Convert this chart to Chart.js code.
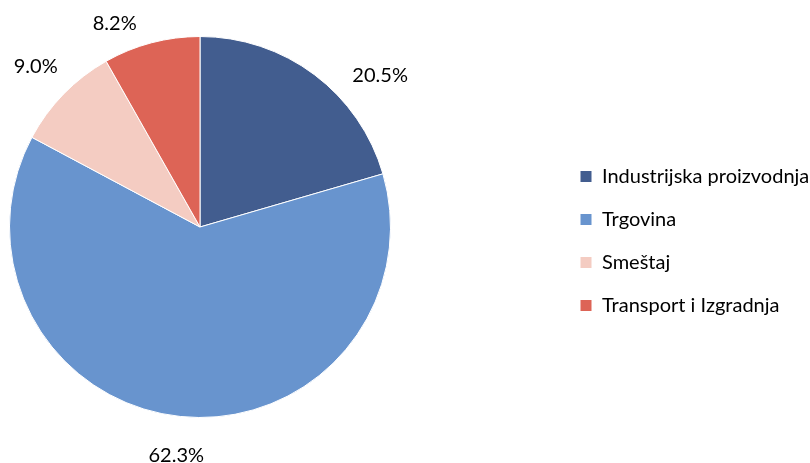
<!DOCTYPE html>
<html>
<head>
<meta charset="utf-8">
<script src="https://cdn.jsdelivr.net/npm/chart.js@4.4.1/dist/chart.umd.min.js"></script>
<style>
  html, body { margin: 0; padding: 0; background: #fff; }
  #wrap { width: 810px; height: 463px; position: relative; }
</style>
</head>
<body>
<div id="wrap"><canvas id="pieChart"></canvas></div>
<script>
// Data (shares in percent)
const categories = ['Industrijska proizvodnja', 'Trgovina', 'Smeštaj', 'Transport i Izgradnja'];
const shares = [20.5, 62.3, 9.0, 8.2];
const sliceColors = ['#425D8F', '#6894CE', '#F4CCC2', '#DD6456'];

const FONT = 'Lato, "Noto Sans", sans-serif';

// Excel-ish outside labels; small angle/radius tweaks per slice
const outsideLabels = {
  id: 'outsideLabels',
  afterDatasetsDraw(chart, args, opts) {
    const ctx = chart.ctx;
    const meta = chart.getDatasetMeta(0);
    ctx.save();
    ctx.font = opts.size + 'px ' + FONT;
    ctx.fillStyle = '#000';
    ctx.textAlign = 'center';
    ctx.textBaseline = 'middle';
    meta.data.forEach((arc, i) => {
      const p = arc.getProps(['x', 'y', 'startAngle', 'endAngle', 'outerRadius'], true);
      const mid = (p.startAngle + p.endAngle) / 2 + (opts.angleShift[i] || 0) * Math.PI / 180;
      const r = p.outerRadius + opts.gap + (opts.radiusShift[i] || 0);
      const v = chart.data.datasets[0].data[i];
      ctx.fillText(v.toFixed(1) + '%', p.x + Math.cos(mid) * r, p.y + Math.sin(mid) * r);
    });
    ctx.restore();
  }
};

// keep the pie on the left and the legend far right, like the original
const legendPlace = {
  id: 'legendPlace',
  beforeLayout(chart, args, opts) {
    const lg = chart.legend;
    if (lg && !lg._patched) {
      const fit = lg.fit;
      lg.fit = function () {
        fit.call(this);
        this.width = opts.width;
      };
      lg._patched = true;
    }
  },
  afterLayout(chart, args, opts) {
    const lg = chart.legend;
    const w = lg.right - lg.left;
    lg.left = opts.x;
    lg.right = opts.x + w;
    lg.top += opts.dy;
    lg.bottom += opts.dy;
  }
};

new Chart(document.getElementById('pieChart'), {
  type: 'pie',
  data: {
    labels: categories,
    datasets: [{
      data: shares,
      backgroundColor: sliceColors,
      borderColor: '#ffffff',
      borderWidth: 1
    }]
  },
  options: {
    responsive: true,
    maintainAspectRatio: false,
    animation: false,
    layout: { padding: { left: 9, top: 36, bottom: 45, right: 0 } },
    plugins: {
      tooltip: { enabled: false },
      legend: {
        position: 'right',
        align: 'center',
        labels: {
          boxWidth: 12,
          boxHeight: 12,
          padding: 23,
          color: '#000',
          font: { family: FONT, size: 20 }
        }
      },
      legendPlace: { width: 419, x: 557, dy: 14 },
      outsideLabels: {
        size: 20,
        gap: 39,
        angleShift: [13, 0, 0, -8],
        radiusShift: [6, 0, 0, -9]
      }
    }
  },
  plugins: [legendPlace, outsideLabels]
});
</script>
</body>
</html>
